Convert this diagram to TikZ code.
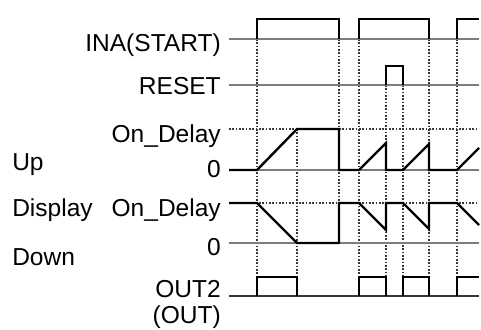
\documentclass[tikz,border=0pt]{standalone}
\usepackage{fontspec}
\setmainfont{Liberation Sans}
\usepackage{tikz}
\definecolor{timinggray}{RGB}{125,125,125}
\definecolor{guidegray}{RGB}{55,55,55}

\begin{document}
\begin{tikzpicture}[x=.75pt,y=-.75pt,line cap=butt,line join=miter,
 baseln/.style={timinggray,line width=.8pt},
 wave/.style={black,line width=1.8pt},
 guide/.style={guidegray,line width=1.3pt,dash pattern=on 1.2pt off 1.3pt},
 lbl/.style={font=\fontsize{18.4}{21}\selectfont,inner sep=0pt}]
\useasboundingbox (0,0) rectangle (481,329);
% dotted guides
\foreach \xx in {257,359,429,457}
 \draw[guide] (\xx,39)--(\xx,277);
\draw[guide] (339,39)--(339,243);
\foreach \xx in {386,403}
 \draw[guide] (\xx,85)--(\xx,277);
\draw[guide] (297,129)--(297,277);
\foreach \yy in {129,203}
 \draw[guide] (229,\yy)--(479,\yy);
% base lines
\foreach \yy in {39,85,170,243}
 \draw[baseln] (229,\yy)--(479,\yy);
\draw[guidegray,line width=1.1pt] (229,296)--(479,296);
% INA(START)
\draw[wave] (257,39)--(257,19)--(339,19)--(339,39);
\draw[wave] (359,39)--(359,19)--(429,19)--(429,39);
\draw[wave] (457,39)--(457,19)--(479,19);
% RESET
\draw[wave] (386,85)--(386,66)--(403,66)--(403,85);
% up counter
\draw[wave] (229,170)--(257,170)--(297,129)--(339,129)--(339,170)--(359,170)
 --(386,143)--(386,170)--(403,170)--(429,144)--(429,170)--(457,170)--(479,148);
% down counter
\draw[wave] (229,203)--(257,203)--(297,243)--(339,243)--(339,203)--(359,203)
 --(386,230)--(386,203)--(403,203)--(429,229)--(429,203)--(457,203)--(479,225);
% OUT2
\draw[wave] (257,296)--(257,277)--(297,277)--(297,296);
\draw[wave] (359,296)--(359,277)--(386,277)--(386,296);
\draw[wave] (403,296)--(403,277)--(429,277)--(429,296);
\draw[wave] (457,296)--(457,277)--(479,277);
% labels
\node[lbl,anchor=base east] (ina) at (221,51) {INA(START)};
\node[lbl,anchor=base east] (reset) at (221,94) {RESET};
\node[lbl,anchor=base east] (updelay) at (221,142) {On\_Delay};
\node[lbl,anchor=base east] (upzero) at (221,177) {0};
\node[lbl,anchor=base west] (up) at (12,170) {Up};
\node[lbl,anchor=base west] (display) at (12,216) {Display};
\node[lbl,anchor=base east] (dndelay) at (221,216) {On\_Delay};
\node[lbl,anchor=base east] (dnzero) at (221,255) {0};
\node[lbl,anchor=base west] (down) at (12,265) {Down};
\node[lbl,anchor=base east] (out) at (221,297) {OUT2};
\node[lbl,anchor=base east] (outb) at (221,323) {(OUT)};
\end{tikzpicture}
\end{document}
